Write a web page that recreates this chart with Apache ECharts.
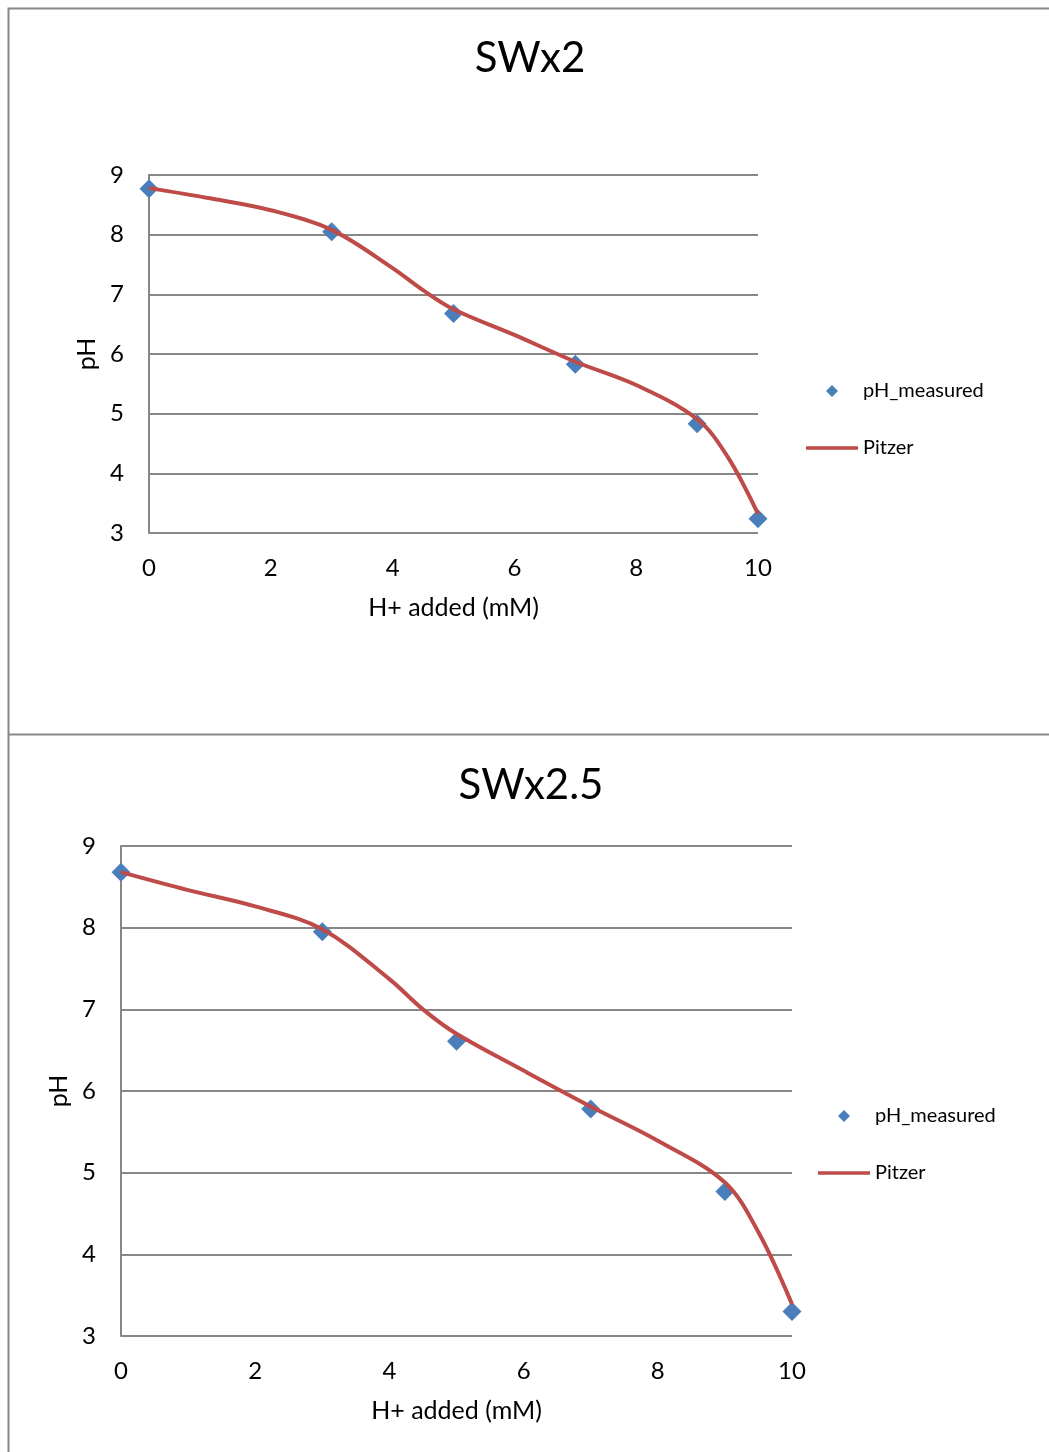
<!DOCTYPE html>
<html>
<head>
<meta charset="utf-8">
<script src="https://cdn.jsdelivr.net/npm/echarts@6/dist/echarts.min.js"></script>
<style>
html,body{margin:0;padding:0;background:#fff;}
#chart{width:1049px;height:1452px;}
</style>
</head>
<body>
<div id="chart"></div>
<script>
// ---- data ----
const titles = ['SWx2', 'SWx2.5'];
const xMeasured = [0, 3, 5, 7, 9, 10];
const phMeasured1 = [8.77, 8.05, 6.68, 5.83, 4.83, 3.24];
const phMeasured2 = [8.68, 7.95, 6.61, 5.78, 4.77, 3.30];
const xPitzer = [0, 1, 2, 3, 4, 4.5, 5, 6, 7, 8, 9, 9.5, 10];
const pitzer1 = [8.78, 8.61, 8.41, 8.08, 7.44, 7.07, 6.75, 6.32, 5.87, 5.48, 4.91, 4.28, 3.32];
const pitzer2 = [8.68, 8.46, 8.26, 7.98, 7.37, 7.00, 6.70, 6.25, 5.81, 5.39, 4.88, 4.27, 3.39];
const xTicks = [0, 2, 4, 6, 8, 10];
const yTicks = [3, 4, 5, 6, 7, 8, 9];
const xName = 'H+ added (mM)';
const yName = 'pH';
const legendNames = ['pH_measured', 'Pitzer'];

function pairs(xs, ys) { return xs.map((x, i) => [x, ys[i]]); }

const FONT = 'Lato, "Open Sans", sans-serif';
const BLUE = '#4A7EBB';
const RED = '#BE4B48';
const GRID = '#878787';
const DIAMOND = 'path://M0,-1L1,0L0,1L-1,0Z';
const LINEICON = 'path://M0,0H52V3.5H0Z';

const grids = [
  { left: 149, top: 175, width: 609, height: 358 },
  { left: 121, top: 846, width: 671, height: 490 }
];

function xAxis(i) {
  return {
    type: 'value', gridIndex: i, min: xTicks[0], max: xTicks[xTicks.length - 1], interval: 2,
    name: xName, nameLocation: 'middle', nameGap: 62,
    nameTextStyle: { fontFamily: FONT, fontSize: 25, color: '#000' },
    axisLine: { show: false },
    axisTick: { show: false },
    splitLine: { show: false },
    axisLabel: { fontFamily: FONT, fontSize: 24, color: '#000', margin: 23 }
  };
}
function yAxis(i) {
  return {
    type: 'value', gridIndex: i, min: yTicks[0], max: yTicks[yTicks.length - 1], interval: 1,
    name: yName, nameLocation: 'middle', nameGap: i === 0 ? 47 : 49,
    nameTextStyle: { fontFamily: FONT, fontSize: 25, color: '#000' },
    axisLine: { show: true, onZero: false, lineStyle: { color: GRID, width: 2 } },
    axisTick: { show: false },
    splitLine: { show: true, lineStyle: { color: GRID, width: 2 } },
    axisLabel: { fontFamily: FONT, fontSize: 24, color: '#000', margin: 25 }
  };
}
function legend(left, top) {
  return {
    data: [{ name: legendNames[0], icon: DIAMOND }, { name: legendNames[1], icon: LINEICON }],
    orient: 'vertical', left: left, top: top, itemWidth: 52, itemHeight: 12, itemGap: 37,
    symbolKeepAspect: true,
    textStyle: { fontFamily: FONT, fontSize: 20, color: '#000' }
  };
}

const option = {
  animation: false,
  backgroundColor: '#fff',
  title: [
    { text: titles[0], left: 525, textAlign: 'center', top: 32, textStyle: { fontFamily: FONT, fontSize: 42, fontWeight: 'normal', color: '#000' } },
    { text: titles[1], left: 526, textAlign: 'center', top: 759, textStyle: { fontFamily: FONT, fontSize: 42, fontWeight: 'normal', color: '#000' } }
  ],
  legend: [legend(801, 376), legend(813, 1101)],
  grid: grids,
  xAxis: [xAxis(0), xAxis(1)],
  yAxis: [yAxis(0), yAxis(1)],
  graphic: [
    { type: 'polyline', shape: { points: [[1049, 8.5], [8.5, 8.5], [8.5, 1452]] }, style: { stroke: '#888', lineWidth: 2, fill: null }, silent: true },
    { type: 'line', shape: { x1: 8.5, y1: 734.5, x2: 1049, y2: 734.5 }, style: { stroke: '#888', lineWidth: 2 }, silent: true }
  ],
  series: [
    { name: 'Pitzer', type: 'line', xAxisIndex: 0, yAxisIndex: 0, data: pairs(xPitzer, pitzer1),
      smooth: 0.35, symbol: 'none', lineStyle: { color: RED, width: 4 }, itemStyle: { color: RED }, z: 3 },
    { name: 'pH_measured', type: 'scatter', xAxisIndex: 0, yAxisIndex: 0, data: pairs(xMeasured, phMeasured1),
      symbol: 'diamond', symbolSize: 19, itemStyle: { color: BLUE, opacity: 1 }, z: 2 },
    { name: 'Pitzer', type: 'line', xAxisIndex: 1, yAxisIndex: 1, data: pairs(xPitzer, pitzer2),
      smooth: 0.35, symbol: 'none', lineStyle: { color: RED, width: 4 }, itemStyle: { color: RED }, z: 3 },
    { name: 'pH_measured', type: 'scatter', xAxisIndex: 1, yAxisIndex: 1, data: pairs(xMeasured, phMeasured2),
      symbol: 'diamond', symbolSize: 19, itemStyle: { color: BLUE, opacity: 1 }, z: 2 }
  ]
};

const chart = echarts.init(document.getElementById('chart'), null, { renderer: 'canvas' });
chart.setOption(option);
</script>
</body>
</html>
